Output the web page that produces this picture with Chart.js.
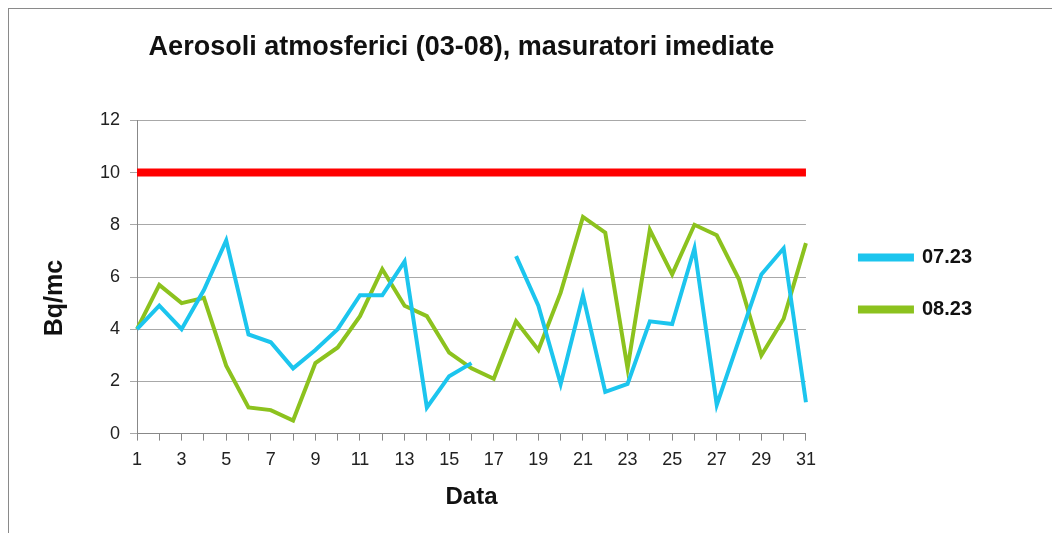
<!DOCTYPE html>
<html>
<head>
<meta charset="utf-8">
<script src="https://cdn.jsdelivr.net/npm/chart.js@4.4.0/dist/chart.umd.min.js"></script>
<style>
    body { margin: 0; background: #fff; }
    #frame { position: absolute; left: 8px; top: 8px; width: 1100px; height: 600px; border: 1px solid #8a8a8a; }
    #wrap { position: absolute; left: 0; top: 0; width: 1052px; height: 533px; }
</style>
</head>
<body>
<div id="frame"></div>
<div id="wrap"><canvas id="chart"></canvas></div>
<script>
const days = ['1','2','3','4','5','6','7','8','9','10','11','12','13','14','15','16','17','18','19','20','21','22','23','24','25','26','27','28','29','30','31'];

const july = [4.0, 4.9, 4.0, 5.5, 7.4, 3.8, 3.5, 2.5, 3.2, 4.0, 5.3, 5.3, 6.6, 1.0, 2.2, 2.7, null,
              6.8, 4.9, 1.9, 5.3, 1.6, 1.9, 4.3, 4.2, 7.1, 1.1, 3.6, 6.1, 7.1, 1.2];

const august = [4.0, 5.7, 5.0, 5.2, 2.6, 1.0, 0.9, 0.5, 2.7, 3.3, 4.5, 6.3, 4.9, 4.5, 3.1, 2.5, 2.1,
                4.3, 3.2, 5.4, 8.3, 7.7, 2.5, 7.8, 6.1, 8.0, 7.6, 5.9, 3.0, 4.4, 7.3];

const limitValue = 10;
const limit = days.map(() => limitValue);

const yTicks = [0, 2, 4, 6, 8, 10, 12];

const FONT = 'Liberation Sans, Arial, sans-serif';

// nudge title / legend / y title to where the original (Excel) puts them
const layoutTweaks = {
    id: 'layoutTweaks',
    afterLayout(chart) {
        const area = chart.chartArea;

        const t = chart.titleBlock;
        t.left = area.left - 20;
        t.right = area.right;

        const lg = chart.legend;
        const dx = area.right + 54 - (lg.left + lg.options.labels.padding);
        lg.left += dx;
        lg.right += dx;
        lg.top += 12;
        lg.bottom += 12;

        const y = chart.scales.y;
        const baseDrawTitle = Object.getPrototypeOf(y).drawTitle;
        y.drawTitle = function () {
            this.ctx.save();
            this.ctx.translate(0, 21);
            baseDrawTitle.call(this);
            this.ctx.restore();
        };
    }
};

const ctx = document.getElementById('chart').getContext('2d');
new Chart(ctx, {
    type: 'line',
    data: {
        labels: days,
        datasets: [
            {
                label: '07.23',
                data: july,
                borderColor: '#1cc5ee',
                backgroundColor: '#1cc5ee',
                borderWidth: 4,
                spanGaps: false
            },
            {
                label: '08.23',
                data: august,
                borderColor: '#8cc21e',
                backgroundColor: '#8cc21e',
                borderWidth: 4
            },
            {
                label: 'limit',
                data: limit,
                borderColor: '#ff0000',
                backgroundColor: '#ff0000',
                borderWidth: 8
            }
        ]
    },
    options: {
        responsive: true,
        maintainAspectRatio: false,
        animation: false,
        layout: {
            padding: { left: 36, right: 92, top: 31, bottom: 21 }
        },
        elements: {
            line: { tension: 0, borderCapStyle: 'butt' },
            point: { radius: 0 }
        },
        scales: {
            x: {
                offset: false,
                grid: { drawOnChartArea: false, color: '#888', tickLength: 7 },
                border: { color: '#888' },
                ticks: {
                    autoSkip: false,
                    maxRotation: 0,
                    padding: 9,
                    color: '#222',
                    font: { family: FONT, size: 18 },
                    callback: function (val, i) { return i % 2 === 0 ? days[i] : ''; }
                },
                title: {
                    display: true,
                    text: 'Data',
                    color: '#111',
                    font: { family: FONT, size: 24, weight: 'bold' },
                    padding: { top: 3, bottom: 0 }
                }
            },
            y: {
                min: 0,
                max: 12,
                afterBuildTicks: (scale) => { scale.ticks = yTicks.map(v => ({ value: v })); },
                afterFit: (scale) => { scale.width = 101; },
                grid: { color: '#a8a8a8', tickLength: 7 },
                border: { color: '#888' },
                ticks: {
                    color: '#222',
                    padding: 10,
                    font: { family: FONT, size: 18 }
                },
                title: {
                    display: true,
                    text: 'Bq/mc',
                    color: '#111',
                    font: { family: FONT, size: 25, weight: 'bold' }
                }
            }
        },
        plugins: {
            title: {
                display: true,
                text: 'Aerosoli atmosferici (03-08), masuratori imediate',
                color: '#111',
                font: { family: FONT, size: 27, weight: 'bold' },
                padding: { top: 0, bottom: 57 }
            },
            legend: {
                position: 'right',
                labels: {
                    filter: (item) => item.text !== 'limit',
                    boxWidth: 52,
                    boxHeight: 4,
                    padding: 32,
                    color: '#111',
                    font: { family: FONT, size: 20, weight: 'bold' }
                }
            },
            tooltip: { enabled: false }
        }
    },
    plugins: [layoutTweaks]
});
</script>
</body>
</html>
